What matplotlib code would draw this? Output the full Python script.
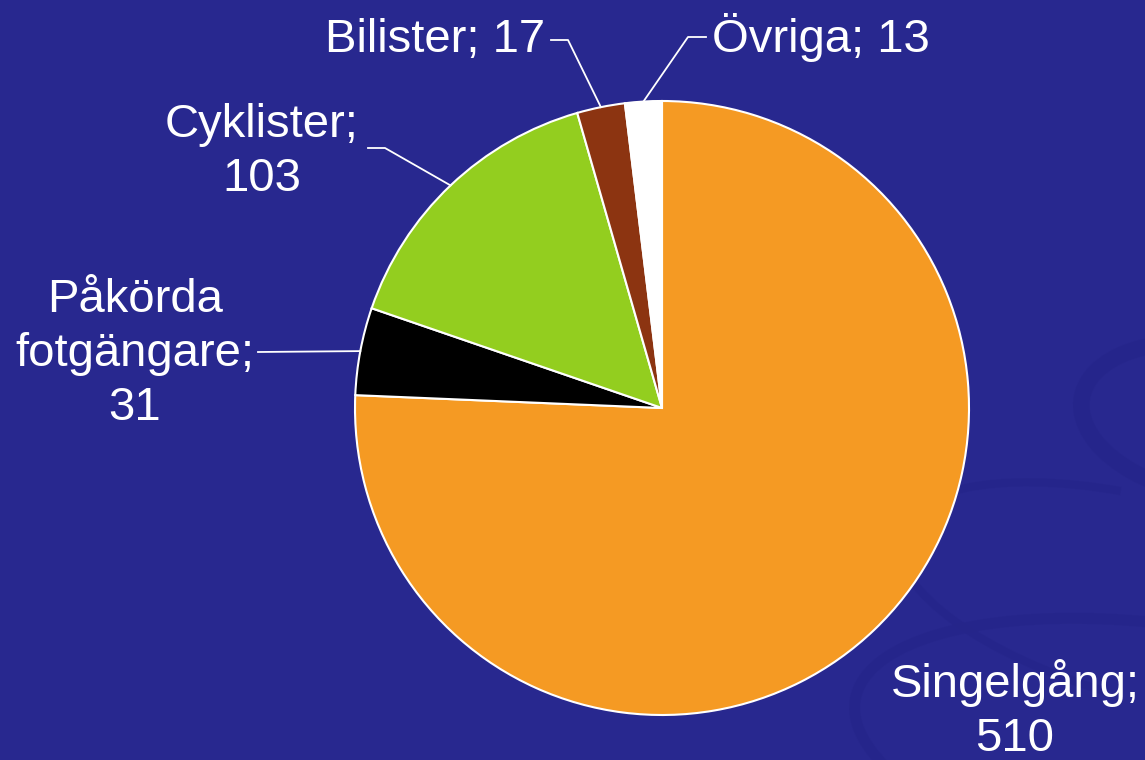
#!/usr/bin/env python3

import numpy as np
import matplotlib
matplotlib.use("Agg")
import matplotlib.pyplot as plt
from matplotlib.patches import Arc


CATEGORIES = ["Singelgång", "Påkörda\nfotgängare", "Cyklister", "Bilister", "Övriga"]
VALUES = [510, 31, 103, 17, 13]
COLORS = ["#F59A23", "#000000", "#93CE1F", "#8C3411", "#FFFFFF"]
LABELS = ["Singelgång;\n510", "Påkörda\nfotgängare;\n31", "Cyklister;\n103",
          "Bilister; 17", "Övriga; 13"]

BG = "#28288F"

W, H = 1145, 760
CX, CY, R = 662, 408, 307


def px(x, y):
    # pixel position -> data coords (pie radius = 1)
    return (x - CX) / R, (CY - y) / R


def main() -> None:
    plt.rcParams["font.family"] = ["Liberation Sans", "DejaVu Sans"]

    fig = plt.figure(figsize=(W / 100, H / 100), dpi=100)
    fig.patch.set_facecolor(BG)
    ax = fig.add_axes([0, 0, 1, 1])
    ax.set_facecolor(BG)

    # faint background swirls
    swirl = "#25258A"
    for (x, y, w, h, a, t1, t2, lw) in [
        (1210, 420, 260, 150, -10, 90, 300, 12),
        (1150, 600, 520, 200, -15, 120, 260, 6),
        (1200, 760, 700, 260, -10, 100, 200, 8),
    ]:
        cx, cy = px(x, y)
        ax.add_patch(Arc((cx, cy), w / R, h / R, angle=a, theta1=t1, theta2=t2,
                         color=swirl, lw=lw, alpha=0.7, zorder=0))

    wedges, _ = ax.pie(
        VALUES,
        colors=COLORS,
        startangle=90,
        counterclock=False,
        radius=1,
        wedgeprops=dict(edgecolor="white", linewidth=1.5),
    )

    # label text position, horizontal alignment, elbow point (pixels)
    layout = [
        ((1015, 710), "center", None),
        ((135, 354), "center", (258, 352)),
        ((262, 152), "center", (385, 148)),
        ((545, 40), "right", (568, 40)),
        ((712, 37), "left", (688, 37)),
    ]

    for i, (wedge, label, (pos, ha, elbow)) in enumerate(zip(wedges, LABELS, layout)):
        tx, ty = px(*pos)
        ax.text(tx, ty, label, ha=ha, va="center", color="white",
                fontsize=34, linespacing=1.3, zorder=5)
        if elbow is None:
            continue
        mid = np.deg2rad((wedge.theta1 + wedge.theta2) / 2)
        ex, ey = np.cos(mid), np.sin(mid)
        bx, by = px(*elbow)
        if ha == "right":
            sx = tx + 6 / R
        elif ha == "left":
            sx = tx - 6 / R
        elif i == 1:
            sx = bx
        else:
            sx = bx - 17 / R
        ax.plot([sx, bx, ex], [by, by, ey], color="white", lw=1.3, zorder=4)

    ax.set_xlim(-CX / R, (W - CX) / R)
    ax.set_ylim((CY - H) / R, CY / R)
    ax.set_aspect("auto")
    ax.axis("off")

    fig.savefig("out.png", dpi=100, facecolor=BG)
    plt.close(fig)


if __name__ == "__main__":
    main()
